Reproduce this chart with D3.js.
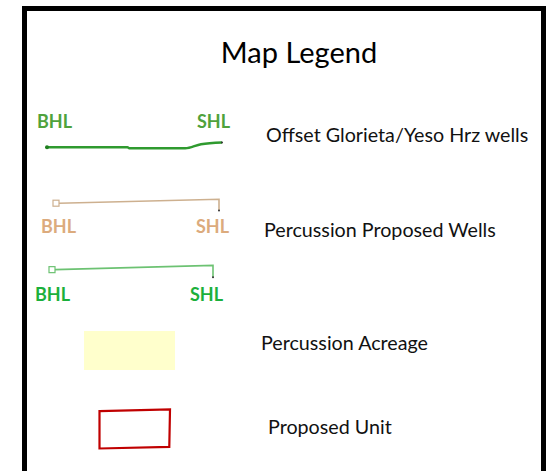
<!DOCTYPE html>
<html>
<head>
<meta charset="utf-8">
<script src="https://cdn.jsdelivr.net/npm/d3@7"></script>
<style>
  body { margin: 0; background: #fff; }
  svg { display: block; }
  text { font-family: Lato, "Open Sans", sans-serif; }
</style>
</head>
<body>
<svg id="chart" width="550" height="471"></svg>
<script>
const title = "Map Legend";
const itemLabels = [
  "Offset Glorieta/Yeso Hrz wells",
  "Percussion Proposed Wells",
  "Percussion Acreage",
  "Proposed Unit"
];
const endLabels = ["BHL", "SHL"];

// legend glyph shapes in a 0..1 box (x) and 0..1 box (y)
const offsetPath = [[0, 0.78], [0.46, 0.78], [0.47, 0.84], [0.79, 0.84], [0.88, 0.6], [1, 0.5]];
const proposedPath = [[0, 0.45], [1, 0.2], [1, 0.9]];
const unitOutline = [[0, 0.04], [1, 0], [0.99, 0.96], [0, 1]];

const svg = d3.select("#chart");

// frame
svg.append("rect")
  .attr("x", 24.5).attr("y", 8.5)
  .attr("width", 519).attr("height", 520)
  .attr("fill", "none")
  .attr("stroke", "#000")
  .attr("stroke-width", 5);

svg.append("text")
  .attr("x", 299).attr("y", 63)
  .attr("text-anchor", "middle")
  .attr("font-size", 29)
  .attr("fill", "#000")
  .text(title);

// rows: offset wells, proposed (tan), proposed (green)
const wells = [
  { x0: 47, x1: 222, y0: 134, y1: 151, color: "#2f9a2f", label: "#4fa23c",
    pts: offsetPath, start: "dot", labelY: 128, bx: 37, sx: 197, text: 0, ty: 142 },
  { x0: 59, x1: 219, y0: 196, y1: 212, color: "#cdb08f", label: "#dcab7d",
    pts: proposedPath, start: "box", labelY: 233, bx: 41, sx: 196, text: 1, ty: 237 },
  { x0: 55, x1: 213, y0: 262, y1: 279, color: "#6cc272", label: "#1bb03c",
    pts: proposedPath, start: "box", labelY: 301, bx: 35, sx: 190, text: null }
];

wells.forEach(w => {
  const x = d3.scaleLinear().domain([0, 1]).range([w.x0, w.x1]);
  const y = d3.scaleLinear().domain([0, 1]).range([w.y0, w.y1]);
  const line = d3.line().x(d => x(d[0])).y(d => y(d[1]))
    .curve(w.start === "dot" ? d3.curveMonotoneX : d3.curveLinear);

  svg.append("path")
    .attr("d", line(w.pts))
    .attr("fill", "none")
    .attr("stroke", w.color)
    .attr("stroke-width", w.start === "dot" ? 2.4 : 1.6);

  const first = w.pts[0], last = w.pts[w.pts.length - 1];
  if (w.start === "dot") {
    svg.append("circle")
      .attr("cx", x(first[0])).attr("cy", y(first[1])).attr("r", 2)
      .attr("fill", "#1f7f1f");
  } else {
    svg.append("rect")
      .attr("x", x(first[0]) - 6).attr("y", y(first[1]) - 3)
      .attr("width", 6).attr("height", 6)
      .attr("fill", "none")
      .attr("stroke", w.color).attr("stroke-width", 1.2);
  }
  svg.append("circle")
    .attr("cx", x(last[0])).attr("cy", y(last[1])).attr("r", 1)
    .attr("fill", "#333");

  [w.bx, w.sx].forEach((lx, i) => {
    svg.append("text")
      .attr("x", lx).attr("y", w.labelY)
      .attr("font-size", 18)
      .attr("font-weight", "bold")
      .attr("fill", w.label)
      .text(endLabels[i]);
  });

  if (w.text !== null) {
    svg.append("text")
      .attr("x", w.text === 0 ? 266 : 264).attr("y", w.ty)
      .attr("font-size", 19.7)
      .attr("fill", "#111")
      .text(itemLabels[w.text]);
  }
});

// acreage swatch
svg.append("rect")
  .attr("x", 84).attr("y", 331)
  .attr("width", 91).attr("height", 39)
  .attr("fill", "#ffffcc");

svg.append("text")
  .attr("x", 261).attr("y", 350)
  .attr("font-size", 19.7)
  .attr("fill", "#111")
  .text(itemLabels[2]);

// unit outline
const ux = d3.scaleLinear().domain([0, 1]).range([99.5, 170]);
const uy = d3.scaleLinear().domain([0, 1]).range([409.5, 448.5]);
svg.append("path")
  .attr("d", d3.line().x(d => ux(d[0])).y(d => uy(d[1]))(unitOutline) + "Z")
  .attr("fill", "none")
  .attr("stroke", "#c00000")
  .attr("stroke-width", 2.2);

svg.append("text")
  .attr("x", 268).attr("y", 434)
  .attr("font-size", 19.7)
  .attr("fill", "#111")
  .text(itemLabels[3]);
</script>
</body>
</html>
